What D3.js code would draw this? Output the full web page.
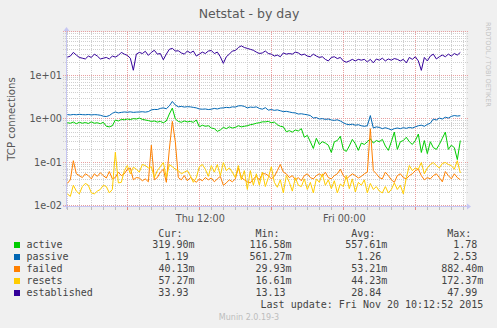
<!DOCTYPE html>
<html>
<head>
<meta charset="utf-8">
<script src="https://cdn.jsdelivr.net/npm/d3@7"></script>
<style>
  html, body { margin: 0; padding: 0; background: #f0f0f0; }
  svg { display: block; }
</style>
</head>
<body>
<svg id="chart" width="497" height="328"></svg>
<script>
// Netstat - by day: TCP connection rates, 15-minute samples from Thu 01:00 (UTC)
const seriesNames = ["active", "passive", "failed", "resets", "established"];
const startTime = Date.UTC(2015, 10, 19, 1, 0, 0);
const stepMinutes = 15;

const active = [
  0.82, 0.8, 0.85, 0.78, 0.84, 0.8, 0.83, 0.79, 0.86, 0.8, 0.82, 0.78, 0.84, 0.68, 0.66, 0.7,
  0.95, 0.9, 0.98, 0.96, 1.0, 0.97, 1.02, 1.0, 1.05, 0.98, 0.95, 0.92, 0.88, 0.9, 0.85, 0.88, 0.82,
  0.9, 1.3, 1.78, 1.0, 0.88, 0.84, 0.9, 0.86, 0.88, 0.84, 0.95, 0.66, 0.72, 0.68, 0.7, 0.62, 0.6,
  0.52, 0.56, 0.64, 0.6, 0.66, 0.62, 0.64, 0.7, 0.66, 0.68, 0.7, 0.74, 0.76, 0.8, 0.82, 0.86,
  0.86, 0.88, 0.82, 0.85, 0.74, 0.68, 0.66, 0.51, 0.54, 0.5, 0.56, 0.53, 0.6, 0.38, 0.42, 0.3,
  0.21, 0.36, 0.26, 0.3, 0.28, 0.25, 0.17, 0.3, 0.32, 0.4, 0.2, 0.18, 0.24, 0.34, 0.27, 0.19, 0.28,
  0.26, 0.3, 0.35, 0.28, 0.32, 0.3, 0.34, 0.24, 0.19, 0.3, 0.5, 0.2, 0.3, 0.32, 0.38, 0.3,
  0.26, 0.32, 0.45, 0.17, 0.32, 0.16, 0.3, 0.22, 0.2, 0.26, 0.36, 0.5, 0.2, 0.25, 0.22, 0.1166, 0.3199
];
const passive = [
  1.26, 1.24, 1.27, 1.25, 1.28, 1.26, 1.25, 1.27, 1.24, 1.26, 1.25, 1.22, 1.16, 1.14, 1.2, 1.35,
  1.45, 1.38, 1.42, 1.45, 1.43, 1.46, 1.42, 1.44, 1.45, 1.47, 1.44, 1.48, 1.62, 1.66, 1.65, 1.75, 1.8,
  1.72, 2.0, 2.53, 2.1, 1.9, 1.95, 1.88, 1.92, 1.9, 1.85, 1.8, 1.7, 1.68, 1.7, 1.65, 1.68, 1.75,
  1.7, 1.78, 1.8, 1.85, 1.82, 1.9, 1.88, 2.0, 2.02, 1.95, 1.8, 1.88, 1.85, 1.9, 1.75, 1.68,
  1.82, 1.6, 1.65, 1.58, 1.62, 1.55, 1.48, 1.5, 1.45, 1.4, 1.38, 1.3, 1.32, 1.28, 1.25, 1.2,
  1.05, 1.08, 1.0, 1.02, 0.98, 1.0, 0.95, 0.93, 0.96, 0.9, 0.82, 0.76, 0.74, 0.76, 0.72, 0.74, 0.7,
  0.68, 0.7, 1.2, 0.62, 0.66, 0.64, 0.6, 0.63, 0.6, 0.5613, 0.6, 0.62, 0.6, 0.63, 0.61, 0.64,
  0.62, 0.66, 0.7, 0.72, 0.68, 0.75, 0.8, 1.0, 0.95, 1.05, 1.0, 1.1, 1.05, 1.15, 1.2, 1.17, 1.19
];
const failed = [
  0.033, 0.04, 0.11, 0.055, 0.05, 0.045, 0.055, 0.05, 0.042, 0.055, 0.048, 0.058, 0.05, 0.044, 0.062, 0.042,
  0.045, 0.06, 0.05, 0.055, 0.07, 0.075, 0.04, 0.045, 0.044, 0.038, 0.042, 0.036, 0.25, 0.04, 0.045, 0.06, 0.07,
  0.035, 0.2, 0.8824, 0.3, 0.045, 0.04, 0.05, 0.038, 0.045, 0.04, 0.035, 0.042, 0.038, 0.045, 0.04, 0.044,
  0.036, 0.042, 0.048, 0.0299, 0.034, 0.04, 0.036, 0.042, 0.075, 0.045, 0.04, 0.036, 0.034, 0.042, 0.048, 0.04, 0.055,
  0.055, 0.05, 0.042, 0.048, 0.065, 0.09, 0.06, 0.055, 0.045, 0.05, 0.04, 0.045, 0.038, 0.05, 0.055, 0.045,
  0.042, 0.05, 0.055, 0.048, 0.06, 0.045, 0.042, 0.05, 0.055, 0.07, 0.05, 0.042, 0.048, 0.055, 0.05, 0.044, 0.048,
  0.055, 0.06, 0.6, 0.065, 0.055, 0.045, 0.042, 0.06, 0.05, 0.04, 0.035, 0.05, 0.055, 0.045, 0.042, 0.05,
  0.055, 0.065, 0.07, 0.05, 0.04, 0.045, 0.042, 0.05, 0.055, 0.045, 0.036, 0.062, 0.05, 0.042, 0.055, 0.045, 0.04013
];
const resets = [
  0.019, 0.0166, 0.03, 0.022, 0.019, 0.028, 0.033, 0.03, 0.02, 0.019, 0.022, 0.024, 0.03, 0.028, 0.02, 0.024,
  0.17237, 0.034, 0.035, 0.065, 0.085, 0.055, 0.078, 0.07, 0.06, 0.09, 0.085, 0.075, 0.08, 0.045, 0.065, 0.08, 0.1,
  0.045, 0.09, 0.08, 0.07, 0.065, 0.055, 0.06, 0.065, 0.05, 0.035, 0.045, 0.08, 0.09, 0.07, 0.048, 0.085,
  0.06, 0.09, 0.05, 0.1, 0.065, 0.075, 0.06, 0.045, 0.085, 0.04, 0.065, 0.024, 0.065, 0.03, 0.055, 0.03, 0.06,
  0.028, 0.045, 0.08, 0.035, 0.027, 0.04, 0.02, 0.05, 0.035, 0.022, 0.045, 0.03, 0.028, 0.042, 0.024, 0.035,
  0.02, 0.042, 0.035, 0.055, 0.03, 0.04, 0.025, 0.038, 0.02, 0.032, 0.028, 0.05, 0.025, 0.042, 0.021, 0.035, 0.03,
  0.04, 0.02, 0.033, 0.024, 0.028, 0.022, 0.02, 0.028, 0.02, 0.024, 0.034, 0.024, 0.03, 0.019, 0.045, 0.085,
  0.065, 0.075, 0.07, 0.1, 0.055, 0.075, 0.09, 0.1, 0.085, 0.075, 0.095, 0.1, 0.09, 0.085, 0.07, 0.11, 0.05727
];
const established = [
  26.4, 27.9, 34, 29.5, 26, 25, 24, 28, 26, 31, 28, 24, 25, 26, 24, 28,
  26.5, 29, 34, 31, 29, 25, 13.2, 31, 34, 32, 36, 29, 34, 38, 31, 32, 23,
  31, 40, 42, 36.5, 37, 33, 31, 36.5, 33, 36.5, 28, 31, 34.5, 32, 36.5, 37.5,
  32, 34.5, 27, 19, 27, 31, 36.5, 37.5, 44, 47.99, 44, 42, 40, 38, 34.5, 32, 33,
  36.5, 32, 31, 28, 29.5, 27, 33, 31, 32, 31, 34.5, 33, 29.5, 31, 28, 27,
  31, 28, 26, 27, 23.5, 21.6, 26, 27, 24.5, 26, 21.6, 20.2, 21.6, 23.5, 21.6, 23.5, 22.5,
  23.5, 20.5, 23.5, 19.5, 24, 22.5, 25, 21.6, 24, 22.5, 24.5, 23.5, 21.6, 23.5, 19.5, 26,
  23.5, 27, 21.6, 13.13, 26, 21.6, 28, 31, 24, 27, 29.5, 27, 31, 28, 32, 29.5, 33.93
];

// Legend statistics columns
const curText = ["319.90m", "1.19", "40.13m", "57.27m", "33.93"];
const minText = ["116.58m", "561.27m", "29.93m", "16.61m", "13.13"];
const avgText = ["557.61m", "1.26", "53.21m", "44.23m", "28.84"];
const maxText = ["1.78", "2.53", "882.40m", "172.37m", "47.99"];
const yTickValues = [0.01, 0.1, 1, 10];
const yTickLabels = ["1e-02", "1e-01", "1e+00", "1e+01"];

const seriesValues = [active, passive, failed, resets, established];
const seriesColors = ["#00cc00", "#0066b3", "#ff8000", "#ffcc00", "#330099"];

const svg = d3.select("#chart");
const W = 497, H = 328;
const plot = { left: 66, right: 466, top: 32, bottom: 206 };
const sans = "'DejaVu Sans', Verdana, sans-serif";
const mono = "'DejaVu Sans Mono', monospace";

svg.append("rect").attr("width", W).attr("height", H).attr("fill", "#f0f0f0");
svg.append("rect")
  .attr("x", plot.left).attr("y", plot.top)
  .attr("width", plot.right - plot.left).attr("height", plot.bottom - plot.top)
  .attr("fill", "#ffffff");

// 300 seconds per pixel, right edge at the last update
const x = d3.scaleUtc()
  .domain([new Date(Date.UTC(2015, 10, 19, 0, 53, 20)), new Date(Date.UTC(2015, 10, 20, 10, 13, 20))])
  .range([plot.left, plot.right]);
const y = d3.scaleLog().domain([0.01, 100]).range([plot.bottom, plot.top]);

const times = active.map((_, i) => new Date(startTime + i * stepMinutes * 60000));

// Grid
const grid = svg.append("g");
const hLines = [];
for (let e = -2; e <= 1; e++) {
  for (let k = 1; k <= 9; k++) hLines.push({ v: k * Math.pow(10, e), major: k === 1 });
}
hLines.push({ v: 100, major: true });
hLines.filter(d => !d.major).concat(hLines.filter(d => d.major)).forEach(d => {
  const yy = Math.floor(y(d.v) - 0.01) + 0.5;
  grid.append("line")
    .attr("x1", plot.left - 3).attr("x2", plot.right + 3)
    .attr("y1", yy).attr("y2", yy)
    .attr("stroke", d.major ? "#e8a0a0" : "#cfcfcf")
    .attr("stroke-dasharray", "1,1");
});

const hours = d3.utcHour.range(x.domain()[0], x.domain()[1]);
hours.filter(h => h.getUTCHours() % 6 !== 0).concat(hours.filter(h => h.getUTCHours() % 6 === 0)).forEach(h => {
  const major = h.getUTCHours() % 6 === 0;
  const xx = Math.floor(x(h)) + 0.5;
  grid.append("line")
    .attr("x1", xx).attr("x2", xx)
    .attr("y1", plot.top).attr("y2", plot.bottom)
    .attr("stroke", major ? "#e8a0a0" : "#cfcfcf")
    .attr("stroke-dasharray", "1,1");
  grid.append("line")
    .attr("x1", xx).attr("x2", xx)
    .attr("y1", plot.bottom).attr("y2", plot.bottom + 4)
    .attr("stroke", major ? "#e08a8a" : "#bdbdbd");
});

// Series lines
const line = d3.line()
  .x(d => x(d.t))
  .y(d => y(d.v));
seriesValues.forEach((vals, s) => {
  const pts = vals.map((v, i) => ({ t: times[i], v }));
  svg.append("path")
    .datum(pts)
    .attr("d", line)
    .attr("fill", "none")
    .attr("stroke", seriesColors[s])
    .attr("stroke-width", 1);
});

// Axes with arrows
const axisColor = "#c6c6f2";
svg.append("line")
  .attr("x1", plot.left - 3).attr("x2", plot.right + 2)
  .attr("y1", plot.bottom + 0.5).attr("y2", plot.bottom + 0.5)
  .attr("stroke", axisColor);
svg.append("line")
  .attr("x1", plot.left + 0.5).attr("x2", plot.left + 0.5)
  .attr("y1", plot.bottom + 3).attr("y2", plot.top - 2)
  .attr("stroke", axisColor);
svg.append("path")
  .attr("d", `M${plot.right + 1},${plot.bottom - 2.5} L${plot.right + 5},${plot.bottom + 0.5} L${plot.right + 1},${plot.bottom + 3.5} Z`)
  .attr("fill", axisColor);
svg.append("path")
  .attr("d", `M${plot.left - 2.5},${plot.top - 1} L${plot.left + 0.5},${plot.top - 5} L${plot.left + 3.5},${plot.top - 1} Z`)
  .attr("fill", axisColor);

// Axis labels
const xLabelTimes = [new Date(Date.UTC(2015, 10, 19, 12)), new Date(Date.UTC(2015, 10, 20, 0))];
const xLabelFormat = d3.utcFormat("%a %H:%M");
svg.append("g").selectAll("text").data(xLabelTimes).join("text")
  .attr("x", d => x(d) + 1).attr("y", 221.5)
  .attr("text-anchor", "middle")
  .attr("font-family", sans).attr("font-size", 9.7).attr("fill", "#555")
  .text(d => xLabelFormat(d));

svg.append("g").selectAll("text").data(yTickValues).join("text")
  .attr("x", 62).attr("y", d => y(d) + 3.3)
  .attr("text-anchor", "end")
  .attr("font-family", sans).attr("font-size", 9.7).attr("fill", "#555")
  .text((d, i) => yTickLabels[i]);

svg.append("text")
  .attr("transform", `translate(15,${(plot.top + plot.bottom) / 2}) rotate(-90)`)
  .attr("text-anchor", "middle")
  .attr("font-family", sans).attr("font-size", 10.2).attr("fill", "#555")
  .text("TCP connections");

svg.append("text")
  .attr("x", W / 2 + 0.5).attr("y", 17.5)
  .attr("text-anchor", "middle")
  .attr("font-family", sans).attr("font-size", 12.5).attr("fill", "#5a5a5a")
  .text("Netstat - by day");

svg.append("text")
  .attr("transform", "translate(486,22) rotate(90)")
  .attr("font-family", sans).attr("font-size", 6.6).attr("fill", "#c4c4c4")
  .text("RRDTOOL / TOBI OETIKER");

// Legend
const charW = 6.02;
const legend = svg.append("g").attr("font-family", mono).attr("font-size", 10).attr("fill", "#444");
const colRight = [194.5, 291.6, 387.3, 483.3];
const headers = ["Cur:", "Min:", "Avg:", "Max:"];
headers.forEach((h, c) => {
  legend.append("text").attr("x", colRight[c] - 2 * charW).attr("y", 236.5)
    .attr("text-anchor", "end").text(h);
});
const rowBase = 248.3, rowStep = 11.9;
const columns = [curText, minText, avgText, maxText];
seriesNames.forEach((name, r) => {
  const by = rowBase + r * rowStep;
  legend.append("rect")
    .attr("x", 14).attr("y", Math.round(by) - 6)
    .attr("width", 6).attr("height", 6)
    .attr("fill", seriesColors[r]);
  legend.append("text").attr("x", 26.5).attr("y", by).text(name);
  columns.forEach((col, c) => {
    const s = col[r];
    const hasUnit = /[a-zA-Z]$/.test(s);
    legend.append("text")
      .attr("x", colRight[c] - (hasUnit ? 0 : charW)).attr("y", by)
      .attr("text-anchor", "end").text(s);
  });
});
legend.append("text").attr("x", 483.3).attr("y", 308.2)
  .attr("text-anchor", "end").text("Last update: Fri Nov 20 10:12:52 2015");

svg.append("text")
  .attr("x", 249).attr("y", 320)
  .attr("text-anchor", "middle")
  .attr("font-family", sans).attr("font-size", 8).attr("fill", "#bdbdbd")
  .text("Munin 2.0.19-3");
</script>
</body>
</html>
